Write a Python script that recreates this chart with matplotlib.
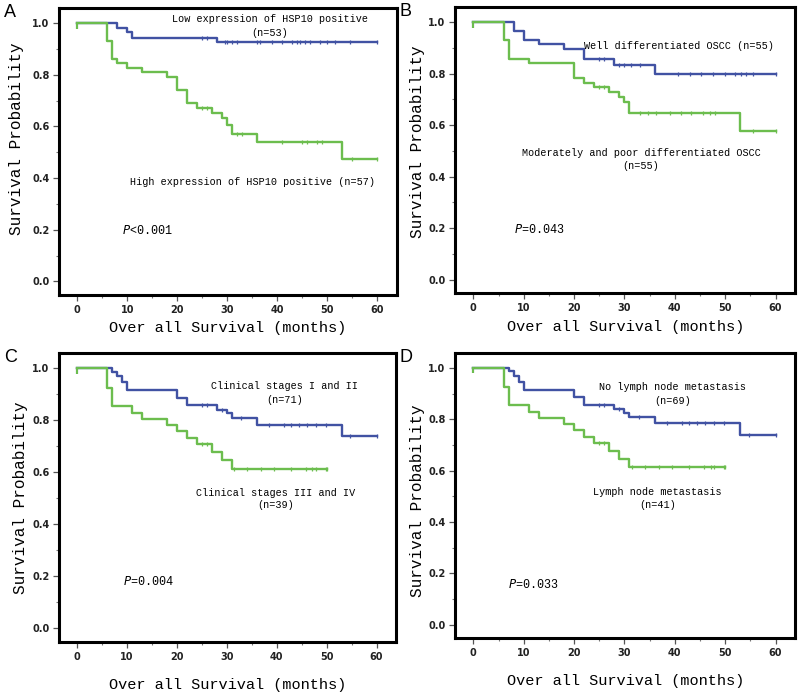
import numpy as np
import matplotlib
matplotlib.use("Agg")
import matplotlib.pyplot as plt

# Kaplan-Meier curves: event times (months) and survival after each step
# panel A
a_blue_t = [8, 10, 11, 28]
a_blue_s = [0.981, 0.965, 0.942, 0.925]
a_blue_c = [25, 26, 29.5, 30, 31, 32, 36, 36.5, 39, 41, 43, 44, 44.5, 45.5, 46.5, 48.5, 50, 51.5, 54.5]
a_blue_end = 60
a_green_t = [6, 7, 8, 10, 13, 18, 20, 22, 24, 27, 29, 30, 31, 36, 53]
a_green_s = [0.929, 0.861, 0.846, 0.826, 0.81, 0.79, 0.74, 0.689, 0.672, 0.653, 0.633, 0.607, 0.569, 0.539, 0.472]
a_green_c = [25, 26, 32, 33, 41, 45, 46, 48, 49, 55]
a_green_end = 60

# panel B
b_blue_t = [8, 10, 13, 18, 22, 28, 36]
b_blue_s = [0.965, 0.929, 0.914, 0.895, 0.856, 0.835, 0.797]
b_blue_c = [25, 26, 29, 30, 31.3, 33, 40.6, 43, 45.2, 47.6, 50, 52, 53.2, 54.2, 55.5]
b_blue_end = 60
b_green_t = [6, 7, 11, 20, 22, 24, 27, 29, 30, 31, 53]
b_green_s = [0.929, 0.856, 0.842, 0.784, 0.765, 0.749, 0.73, 0.711, 0.689, 0.647, 0.576]
b_green_c = [25, 26, 33, 34.6, 36.3, 39, 41.3, 43.3, 45.6, 47, 48, 55.5]
b_green_end = 60

# panel C
c_blue_t = [7, 8, 9, 10, 20, 22, 28, 30, 31, 36, 53]
c_blue_s = [0.987, 0.97, 0.945, 0.916, 0.886, 0.858, 0.841, 0.826, 0.81, 0.783, 0.738]
c_blue_c = [25, 26, 29, 32.8, 38.5, 41.5, 42.8, 44.4, 46, 47.8, 49.8, 54.7]
c_blue_end = 60
c_green_t = [6, 7, 11, 13, 18, 20, 22, 24, 27, 29, 31]
c_green_s = [0.923, 0.854, 0.828, 0.804, 0.781, 0.757, 0.732, 0.707, 0.677, 0.648, 0.613]
c_green_c = [25, 26, 31.5, 34.1, 36.8, 39.5, 42.8, 45.8, 47.1, 47.8, 49.8]
c_green_end = 50

# panel D
d_blue_t = [7, 8, 9, 10, 20, 22, 28, 30, 31, 36, 53]
d_blue_s = [0.987, 0.97, 0.943, 0.914, 0.885, 0.857, 0.84, 0.824, 0.808, 0.785, 0.74]
d_blue_c = [25, 26, 29, 32.8, 38.5, 41.5, 42.8, 44.4, 46, 47.8, 49.8, 54.7]
d_blue_end = 60
d_green_t = [6, 7, 11, 13, 18, 20, 22, 24, 27, 29, 31]
d_green_s = [0.925, 0.855, 0.829, 0.805, 0.781, 0.757, 0.732, 0.707, 0.677, 0.645, 0.613]
d_green_c = [25, 26, 31.5, 34.1, 36.8, 39.5, 42.8, 45.8, 47.1, 47.8, 49.8]
d_green_end = 50

BLUE = "#4152a3"
GREEN = "#6cbd4e"
MONO = "Liberation Mono"


def km(ax, t, s, cens, end, color):
    x = np.array([0] + t + [end], dtype=float)
    y = np.array([1.0] + s + [s[-1]])
    ax.step(x, y, where="post", color=color, lw=1.7, zorder=3)
    # censor marks sit on the current level
    cx = np.array(cens + [end], dtype=float)
    idx = np.searchsorted(x[:-1], cx, side="right") - 1
    ax.plot(cx, y[idx], ls="none", marker="|", ms=3.5, mew=0.9, color=color, zorder=4)
    ax.plot([0], [0.99], ls="none", marker="|", ms=4, mew=1.5, color=color, zorder=4)


def style(ax, letter, xpad, ylab_pos):
    ax.set_xlim(-3.6, 63.9)
    ax.set_ylim(-0.052, 1.058)
    ax.set_xticks(np.arange(0, 61, 10))
    ax.set_xticks(np.arange(0, 61, 5), minor=True)
    ax.set_yticks(np.arange(0, 1.01, 0.2))
    ax.set_yticks(np.arange(0, 1.01, 0.1), minor=True)
    ax.set_yticklabels(["%.1f" % v for v in np.arange(0, 1.01, 0.2)])
    ax.tick_params(which="major", length=4, width=0.9, color="#555555", labelsize=7, pad=3)
    ax.tick_params(which="minor", length=2.5, width=0.8, color="#777777")
    for lab in ax.get_xticklabels() + ax.get_yticklabels():
        lab.set_fontweight("bold")
        lab.set_family("DejaVu Sans")
        lab.set_color("#222222")
    for sp in ax.spines.values():
        sp.set_linewidth(2.2)
    ax.set_ylabel("Survival Probability", family=MONO, fontsize=11.5)
    ax.yaxis.set_label_coords(*ylab_pos)
    ax.set_xlabel("Over all Survival (months)", family=MONO, fontsize=11, labelpad=xpad)
    ax.text(-0.145, 0.985, letter, transform=ax.transAxes, fontsize=13,
            family="Liberation Sans", va="center", ha="center")


fig = plt.figure(figsize=(8, 6.97), dpi=100)
axA = fig.add_axes([0.074, 0.577, 0.422, 0.4115])
axB = fig.add_axes([0.569, 0.5796, 0.425, 0.41])
axC = fig.add_axes([0.074, 0.079, 0.421, 0.4145])
axD = fig.add_axes([0.569, 0.0846, 0.425, 0.409])

km(axA, a_blue_t, a_blue_s, a_blue_c, a_blue_end, BLUE)
km(axA, a_green_t, a_green_s, a_green_c, a_green_end, GREEN)
km(axB, b_blue_t, b_blue_s, b_blue_c, b_blue_end, BLUE)
km(axB, b_green_t, b_green_s, b_green_c, b_green_end, GREEN)
km(axC, c_blue_t, c_blue_s, c_blue_c, c_blue_end, BLUE)
km(axC, c_green_t, c_green_s, c_green_c, c_green_end, GREEN)
km(axD, d_blue_t, d_blue_s, d_blue_c, d_blue_end, BLUE)
km(axD, d_green_t, d_green_s, d_green_c, d_green_end, GREEN)

style(axA, "A", 5, (-0.105, 0.545))
style(axB, "B", 5, (-0.09, 0.53))
style(axC, "C", 12, (-0.092, 0.5))
style(axD, "D", 12, (-0.09, 0.48))

fs = 7.3
kw = dict(family=MONO, fontsize=fs, ha="center", va="center")
axA.text(38.5, 1.015, "Low expression of HSP10 positive", **kw)
axA.text(38.5, 0.96, "(n=53)", **kw)
axA.text(35.1, 0.386, "High expression of HSP10 positive (n=57)", **kw)
axA.text(9.0, 0.197, r"$P$<0.001", family=MONO, fontsize=8.5, va="center")

axB.text(40.9, 0.908, "Well differentiated OSCC (n=55)", **kw)
axB.text(33.3, 0.492, "Moderately and poor differentiated OSCC", **kw)
axB.text(33.3, 0.442, "(n=55)", **kw)
axB.text(8.0, 0.196, r"$P$=0.043", family=MONO, fontsize=8.5, va="center")

axC.text(41.5, 0.932, "Clinical stages I and II", **kw)
axC.text(41.5, 0.876, "(n=71)", **kw)
axC.text(39.8, 0.522, "Clinical stages III and IV", **kw)
axC.text(39.8, 0.475, "(n=39)", **kw)
axC.text(9.2, 0.179, r"$P$=0.004", family=MONO, fontsize=8.5, va="center")

axD.text(39.6, 0.927, "No lymph node metastasis", **kw)
axD.text(39.6, 0.872, "(n=69)", **kw)
axD.text(36.6, 0.517, "Lymph node metastasis", **kw)
axD.text(36.6, 0.465, "(n=41)", **kw)
axD.text(6.8, 0.155, r"$P$=0.033", family=MONO, fontsize=8.5, va="center")

fig.savefig("out.png", dpi=100)
